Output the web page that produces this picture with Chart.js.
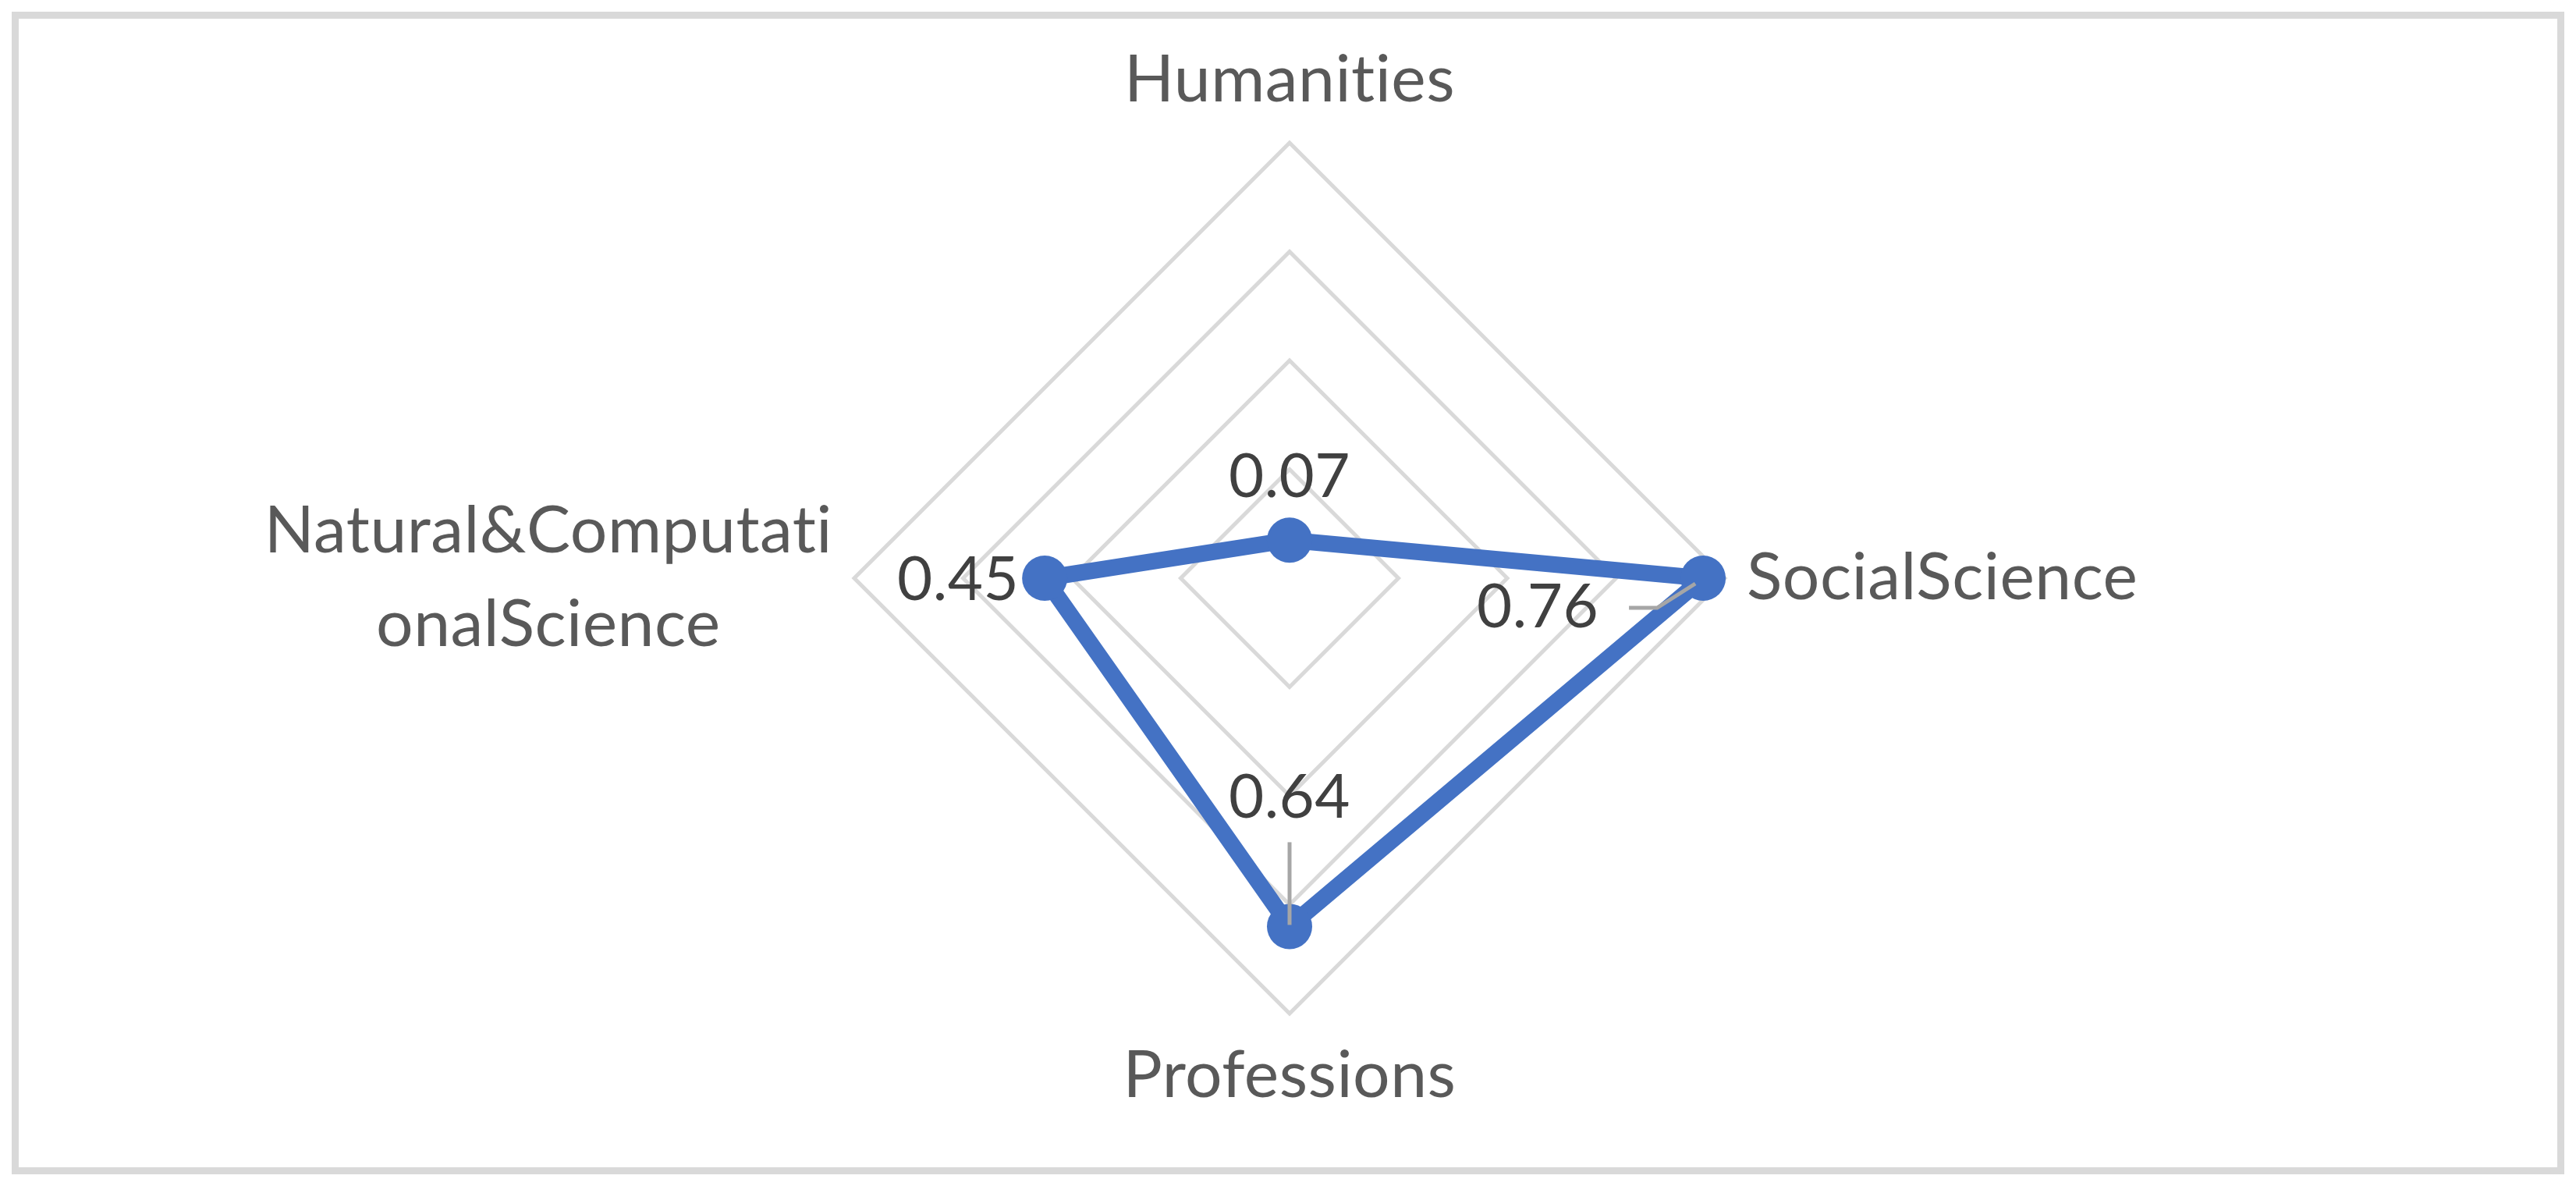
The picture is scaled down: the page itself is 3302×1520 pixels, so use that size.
<!DOCTYPE html>
<html>
<head>
<meta charset="utf-8">
<script src="https://cdn.jsdelivr.net/npm/chart.js@4.4.1/dist/chart.umd.min.js"></script>
<style>
  html, body { margin: 0; padding: 0; background: #fff; }
  #wrap { width: 3302px; height: 1520px; }
</style>
</head>
<body>
<div id="wrap"><canvas id="radar" width="3302" height="1520"></canvas></div>
<script>
// datos del gráfico
const categories = [['Humanities'], ['SocialScience'], ['Professions'], ['Natural&Computati', 'onalScience']];
const scores = [0.07, 0.76, 0.64, 0.45];
const scaleTicks = [0, 0.2, 0.4, 0.6, 0.8];

const FONT = 'Lato, "Open Sans", sans-serif';

// posición de cada etiqueta de valor respecto a su punto
const valueLabelPos = [
    { dx: 0, dy: -80, align: 'center', leader: null },
    { dx: -212, dy: 38, align: 'center', leader: [[-95, 38], [-59, 38], [-10, 7]] },
    { dx: 0, dy: -165, align: 'center', leader: [[0, -108], [0, -2]] },
    { dx: -33, dy: 3, align: 'right', leader: null }
];

function noLigatures(ctx) {
    // Lato junta "ti" en una ligadura; el original no la tiene
    ctx.textRendering = 'optimizeSpeed';
    ctx.letterSpacing = '0.5px';
}

const framePlugin = {
    id: 'frame',
    beforeDraw(chart) {
        const ctx = chart.ctx;
        ctx.save();
        ctx.fillStyle = '#ffffff';
        ctx.fillRect(0, 0, chart.width, chart.height);
        ctx.strokeStyle = '#d9d9d9';
        ctx.lineWidth = 9;
        ctx.strokeRect(19.5, 19.5, chart.width - 39, chart.height - 39);
        ctx.restore();
    }
};

// etiquetas de categoría dibujadas a mano para centrar las dos líneas
const categoryPlugin = {
    id: 'categoryLabels',
    afterDraw(chart) {
        const scale = chart.scales.r;
        const ctx = chart.ctx;
        ctx.save();
        noLigatures(ctx);
        ctx.font = '84px ' + FONT;
        ctx.fillStyle = '#595959';
        ctx.textBaseline = 'middle';
        ctx.textAlign = 'center';
        const lineH = 120;
        categories.forEach((lines, i) => {
            const vertical = (i % 2 === 0);
            const pos = scale.getPointPosition(i, scale.drawingArea + (vertical ? 80 : 28));
            const widths = lines.map(l => ctx.measureText(l).width);
            const maxW = Math.max(...widths);
            let cx = pos.x;
            if (i === 1) cx = pos.x + maxW / 2;
            if (i === 3) cx = pos.x - maxW / 2;
            const y0 = pos.y - (lines.length - 1) * lineH / 2;
            lines.forEach((l, k) => ctx.fillText(l, cx, y0 + k * lineH));
        });
        ctx.restore();
    }
};

const valueLabelPlugin = {
    id: 'valueLabels',
    afterDatasetsDraw(chart) {
        const ctx = chart.ctx;
        const meta = chart.getDatasetMeta(0);
        ctx.save();
        noLigatures(ctx);
        meta.data.forEach((pt, i) => {
            const s = valueLabelPos[i];
            if (s.leader) {
                ctx.strokeStyle = '#a6a6a6';
                ctx.lineWidth = 5;
                ctx.beginPath();
                s.leader.forEach(([lx, ly], k) => {
                    if (k === 0) ctx.moveTo(pt.x + lx, pt.y + ly);
                    else ctx.lineTo(pt.x + lx, pt.y + ly);
                });
                ctx.stroke();
            }
            ctx.font = '78px ' + FONT;
            ctx.fillStyle = '#404040';
            ctx.textAlign = s.align;
            ctx.textBaseline = 'middle';
            ctx.fillText(scores[i].toFixed(2), pt.x + s.dx, pt.y + s.dy);
        });
        ctx.restore();
    }
};

new Chart(document.getElementById('radar').getContext('2d'), {
    type: 'radar',
    data: {
        labels: categories,
        datasets: [{
            label: 'Score',
            data: scores,
            borderColor: '#4472C4',
            backgroundColor: 'rgba(0,0,0,0)',
            borderWidth: 21,
            borderJoinStyle: 'round',
            fill: false,
            pointRadius: 29,
            pointBackgroundColor: '#4472C4',
            pointBorderWidth: 0,
            tension: 0
        }]
    },
    options: {
        responsive: false,
        animation: false,
        layout: { padding: { top: 183, bottom: 221, left: 4, right: 0 } },
        plugins: { legend: { display: false }, tooltip: { enabled: false } },
        scales: {
            r: {
                min: scaleTicks[0],
                max: scaleTicks[scaleTicks.length - 1],
                ticks: { display: false, stepSize: scaleTicks[1] - scaleTicks[0] },
                grid: { color: '#d9d9d9', lineWidth: 5, circular: false },
                angleLines: { display: false },
                pointLabels: { display: false }
            }
        }
    },
    plugins: [framePlugin, categoryPlugin, valueLabelPlugin]
});
</script>
</body>
</html>
